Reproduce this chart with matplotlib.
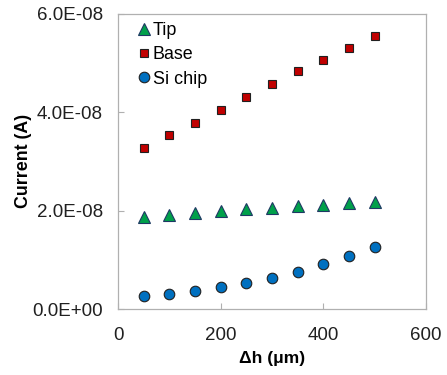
import matplotlib
matplotlib.use("Agg")
import matplotlib.pyplot as plt
from matplotlib.ticker import FuncFormatter

plt.rcParams["font.family"] = ["Liberation Sans", "DejaVu Sans"]

dh = [50, 100, 150, 200, 250, 300, 350, 400, 450, 500]
tip = [1.88e-8, 1.91e-8, 1.96e-8, 2.00e-8, 2.04e-8, 2.06e-8, 2.09e-8, 2.12e-8, 2.15e-8, 2.17e-8]
base = [3.27e-8, 3.53e-8, 3.78e-8, 4.05e-8, 4.31e-8, 4.58e-8, 4.83e-8, 5.07e-8, 5.31e-8, 5.55e-8]
si_chip = [0.26e-8, 0.31e-8, 0.37e-8, 0.44e-8, 0.52e-8, 0.63e-8, 0.76e-8, 0.91e-8, 1.07e-8, 1.26e-8]

GREY = "#B0B0B0"
fig = plt.figure(figsize=(4.47, 3.75), dpi=100)
ax = fig.add_axes([0.264, 0.176, 0.689, 0.787])

ax.plot(dh, tip, ls="none", marker="^", ms=8.5, mfc="#00A04A", mec="#1F3864", mew=0.8, label="Tip")
ax.plot(dh, base, ls="none", marker="s", ms=6.4, mfc="#C00000", mec="#202020", mew=0.8, label="Base")
ax.plot(dh, si_chip, ls="none", marker="o", ms=7.6, mfc="#0070C0", mec="#202020", mew=0.8, label="Si chip")

ax.set_xlim(0, 600)
ax.set_ylim(0, 6e-8)
ax.set_xticks([0, 200, 400, 600])
ax.set_yticks([0, 2e-8, 4e-8, 6e-8])
ax.yaxis.set_major_formatter(FuncFormatter(lambda v, p: f"{v:.1E}"))
for s in ax.spines.values():
    s.set_color(GREY)
    s.set_linewidth(0.9)
ax.tick_params(direction="in", length=4, color=GREY, labelsize=13.5, labelcolor="#202020")
ax.tick_params(axis="y", pad=11)
ax.tick_params(axis="x", pad=13)

ax.set_xlabel("Δh (μm)", fontsize=12.5, fontweight="bold", labelpad=5)
ax.set_ylabel("Current (A)", fontsize=12.8, fontweight="bold", labelpad=0)

ax.legend(loc="upper left", frameon=False, fontsize=12.9, handlelength=0.6, handletextpad=0.2,
          labelspacing=0.4, borderaxespad=0.2, bbox_to_anchor=(0.032, 1.008))

fig.savefig("out.png", dpi=100)
